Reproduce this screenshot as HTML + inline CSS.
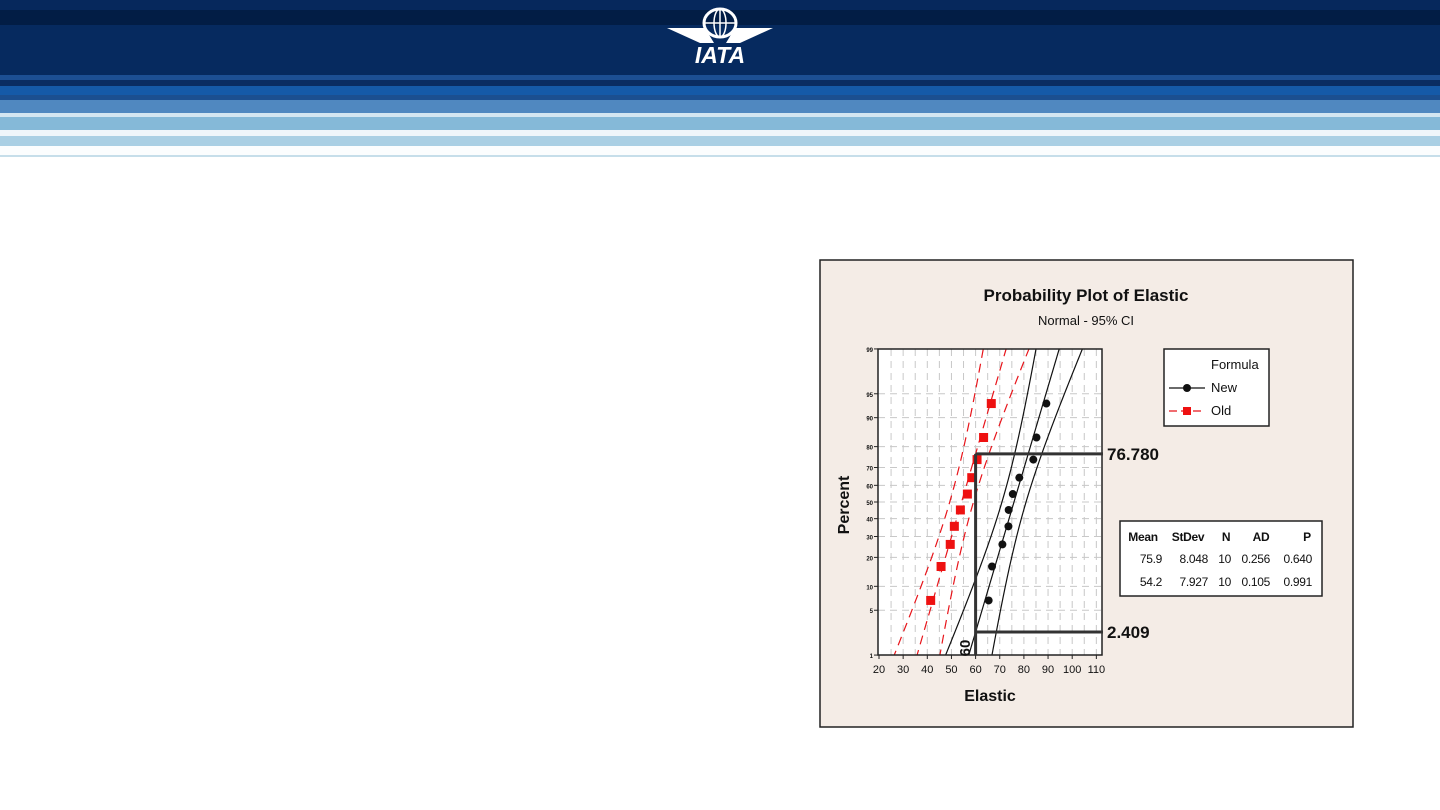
<!DOCTYPE html>
<html><head><meta charset="utf-8"><style>
html,body{margin:0;padding:0;width:1440px;height:810px;overflow:hidden;background:#fff;font-family:"Liberation Sans",sans-serif}
#hdr{position:absolute;left:0;top:0;width:1440px;height:160px}
svg text{font-family:"Liberation Sans",sans-serif}
</style></head><body>
<svg id="hdr" width="1440" height="160">
<rect x="0" y="0" width="1440" height="10" fill="#06285c"/>
<rect x="0" y="10" width="1440" height="15" fill="#021d45"/>
<rect x="0" y="25" width="1440" height="50" fill="#062a5f"/>
<rect x="0" y="75" width="1440" height="5" fill="#1c4f93"/>
<rect x="0" y="80" width="1440" height="6" fill="#0a2d62"/>
<rect x="0" y="86" width="1440" height="9" fill="#155aa8"/>
<rect x="0" y="95" width="1440" height="5" fill="#1b4f90"/>
<rect x="0" y="100" width="1440" height="13" fill="#5088c0"/>
<rect x="0" y="113" width="1440" height="4" fill="#d4e6f1"/>
<rect x="0" y="117" width="1440" height="13" fill="#85b9d8"/>
<rect x="0" y="130" width="1440" height="6" fill="#eef5fa"/>
<rect x="0" y="136" width="1440" height="10" fill="#a9cfe4"/>
<rect x="0" y="146" width="1440" height="9" fill="#fbfdfe"/>
<rect x="0" y="155" width="1440" height="2" fill="#c6deea"/>
<g>
<ellipse cx="720" cy="23" rx="16" ry="14" fill="none" stroke="#fff" stroke-width="3"/>
<ellipse cx="720" cy="23" rx="6" ry="14" fill="none" stroke="#fff" stroke-width="1.5"/>
<line x1="704" y1="23" x2="736" y2="23" stroke="#fff" stroke-width="1.5"/>
<line x1="720" y1="9" x2="720" y2="37" stroke="#fff" stroke-width="1.5"/>
<polygon points="667,28 705,28 714,43 700,43" fill="#fff"/>
<polygon points="773,28 735,28 726,43 740,43" fill="#fff"/>
<text x="720" y="63" text-anchor="middle" font-size="23" font-weight="bold" font-style="italic" fill="#fff">IATA</text>
</g>
</svg>
<svg id="chart" width="1440" height="810" style="position:absolute;left:0;top:0"></svg>
<script>
const xTicks=[20,30,40,50,60,70,80,90,100,110];
const yTicks=[1,5,10,20,30,40,50,60,70,80,90,95,99];
const newVals=[65.4,66.8,71.1,73.6,73.7,75.4,78.1,83.9,85.2,89.3];
const oldVals=[41.4,45.7,49.5,51.2,53.7,56.6,58.4,60.6,63.3,66.5];
const newStats=[75.9,8.048,10,0.256,0.640];
const oldStats=[54.2,7.927,10,0.105,0.991];
const refX=[60];
const refPct=[76.780,2.409];
const NS='http://www.w3.org/2000/svg';
const svg=document.getElementById('chart');
function mk(t,a,p){const e=document.createElementNS(NS,t);for(const k in a)e.setAttribute(k,a[k]);(p||svg).appendChild(e);return e;}
function x(v){return 879+(v-20)*2.415;}
function invN(p){
 const a=[-39.6968302866538,220.946098424521,-275.928510446969,138.357751867269,-30.6647980661472,2.50662827745924],
 b=[-54.4760987982241,161.585836858041,-155.698979859887,66.8013118877197,-13.2806815528857],
 c=[-0.00778489400243029,-0.322396458041136,-2.40075827716184,-2.54973253934373,4.37466414146497,2.93816398269878],
 d=[0.00778469570904146,0.32246712907004,2.445134137143,3.75440866190742];
 if(p<0.02425){const q=Math.sqrt(-2*Math.log(p));return(((((c[0]*q+c[1])*q+c[2])*q+c[3])*q+c[4])*q+c[5])/((((d[0]*q+d[1])*q+d[2])*q+d[3])*q+1);}
 if(p>1-0.02425){const q=Math.sqrt(-2*Math.log(1-p));return-(((((c[0]*q+c[1])*q+c[2])*q+c[3])*q+c[4])*q+c[5])/((((d[0]*q+d[1])*q+d[2])*q+d[3])*q+1);}
 const q=p-0.5,r=q*q;return(((((a[0]*r+a[1])*r+a[2])*r+a[3])*r+a[4])*r+a[5])*q/(((((b[0]*r+b[1])*r+b[2])*r+b[3])*r+b[4])*r+1);}
function yz(z){return 502-z*65.8;}
function y(pct){return yz(invN(pct/100));}
const L=878,R=1102,T=349,B=655;
let e;
e=mk('rect',{x:820,y:260,width:533,height:467,fill:'#f4ece6',stroke:'#222','stroke-width':1.5});

e=mk('text',{x:1086,y:301,'text-anchor':'middle','font-size':17,'font-weight':'bold',fill:'#111'});e.textContent='Probability Plot of Elastic';

e=mk('text',{x:1086,y:325,'text-anchor':'middle','font-size':13,fill:'#111'});e.textContent='Normal - 95% CI';

e=mk('rect',{x:L,y:T,width:R-L,height:B-T,fill:'#fff'});

const clip=mk('clipPath',{id:'pc'});mk('rect',{x:L,y:T,width:R-L,height:B-T},clip);
const g=mk('g',{'clip-path':'url(#pc)'});
for(let v=25;v<112;v+=5){e=mk('line',{x1:x(v),y1:T,x2:x(v),y2:B,stroke:'#c8c8c8','stroke-dasharray':'7,5'},g);
}
yTicks.forEach(p=>{e=mk('line',{x1:L,y1:y(p),x2:R,y2:y(p),stroke:'#c8c8c8','stroke-dasharray':'7,5'},g);
});
function ci(st,col,dash,name){const m=st[0],s=st[1],n=st[2];
 const pts=[[],[],[]];
 for(let z=-2.6;z<=2.6;z+=0.05){const f=m+s*z,se=s*Math.sqrt(1/n+z*z/(2*n));
  pts[0].push(x(f-1.96*se)+','+yz(z));pts[1].push(x(f)+','+yz(z));pts[2].push(x(f+1.96*se)+','+yz(z));}
 pts.forEach((p,i)=>{const a={points:p.join(' '),fill:'none',stroke:col,'stroke-width':1.2};if(dash)a['stroke-dasharray']=dash;
  e=mk('polyline',a,g);});}
ci(oldStats,'#e8141a','9,6','old');
ci(newStats,'#111',null,'new');
function pts(vals,name){const n=vals.length;vals.forEach((v,i)=>{const p=(i+1-0.3)/(n+0.4)*100;
 if(name=='new')e=mk('circle',{cx:x(v),cy:y(p),r:4,fill:'#111'},g);
 else e=mk('rect',{x:x(v)-4.5,y:y(p)-4.5,width:9,height:9,fill:'#ee1111'},g);
 });}
pts(oldVals,'old');pts(newVals,'new');
e=mk('rect',{x:L,y:T,width:R-L,height:B-T,fill:'none',stroke:'#222','stroke-width':1.5});

e=mk('line',{x1:x(refX[0]),y1:B,x2:x(refX[0]),y2:y(refPct[0]),stroke:'#333','stroke-width':3});

refPct.forEach((p,i)=>{e=mk('line',{x1:x(refX[0]),y1:y(p),x2:R+1,y2:y(p),stroke:'#333','stroke-width':3});
 
 e=mk('text',{x:1107,y:y(p)+6,'font-size':17,'font-weight':'bold',fill:'#111','font-family':'DejaVu Sans'});e.textContent=p.toFixed(3);
 });
e=mk('text',{x:0,y:0,'font-size':15,'font-weight':'bold',fill:'#111',transform:'translate(970,648) rotate(-90)','text-anchor':'middle'});e.textContent='60';

xTicks.forEach(v=>{mk('line',{x1:x(v),y1:B,x2:x(v),y2:B+4,stroke:'#222'});
 e=mk('text',{x:x(v),y:B+18,'text-anchor':'middle','font-size':11,fill:'#111'});e.textContent=v;
 });
yTicks.forEach(p=>{mk('line',{x1:L-4,y1:y(p),x2:L,y2:y(p),stroke:'#222'});
 e=mk('text',{x:L-5,y:y(p)+3,'text-anchor':'end','font-size':6,'font-weight':'bold',fill:'#111'});e.textContent=p;
 });
e=mk('text',{x:990,y:701,'text-anchor':'middle','font-size':16,'font-weight':'bold',fill:'#111'});e.textContent='Elastic';

e=mk('text',{x:0,y:0,'text-anchor':'middle','font-size':16,'font-weight':'bold',fill:'#111',transform:'translate(849,505) rotate(-90)'});e.textContent='Percent';

e=mk('rect',{x:1164,y:349,width:105,height:77,fill:'#fff',stroke:'#222','stroke-width':1.5});

e=mk('text',{x:1211,y:369,'font-size':13,fill:'#111'});e.textContent='Formula';

mk('line',{x1:1169,y1:388,x2:1205,y2:388,stroke:'#111','stroke-width':1.2});mk('circle',{cx:1187,cy:388,r:4,fill:'#111'});
e=mk('text',{x:1211,y:392,'font-size':13,fill:'#111'});e.textContent='New';

mk('line',{x1:1169,y1:411,x2:1205,y2:411,stroke:'#e8141a','stroke-width':1.2,'stroke-dasharray':'8,4'});mk('rect',{x:1183,y:407,width:8,height:8,fill:'#ee1111'});
e=mk('text',{x:1211,y:415,'font-size':13,fill:'#111'});e.textContent='Old';

e=mk('rect',{x:1120,y:521,width:202,height:75,fill:'#fff',stroke:'#222','stroke-width':1.5});

const hx=[1143,1188,1226,1261,1307];const hd=['Mean','StDev','N','AD','P'];
hd.forEach((h,i)=>{e=mk('text',{x:hx[i],y:541,'text-anchor':'middle','font-size':12,'font-weight':'bold',fill:'#111','letter-spacing':'-0.3'});e.textContent=h;
 });
const cx=[1162,1208,1231,1270,1312];
[newStats,oldStats].forEach((st,r)=>{const f=[st[0].toFixed(1),st[1].toFixed(3),String(st[2]),st[3].toFixed(3),st[4].toFixed(3)];
 f.forEach((t,i)=>{e=mk('text',{x:cx[i],y:563+r*23,'text-anchor':'end','font-size':12,fill:'#111','letter-spacing':'-0.3'});e.textContent=t;
 });});
</script>
</body></html>
